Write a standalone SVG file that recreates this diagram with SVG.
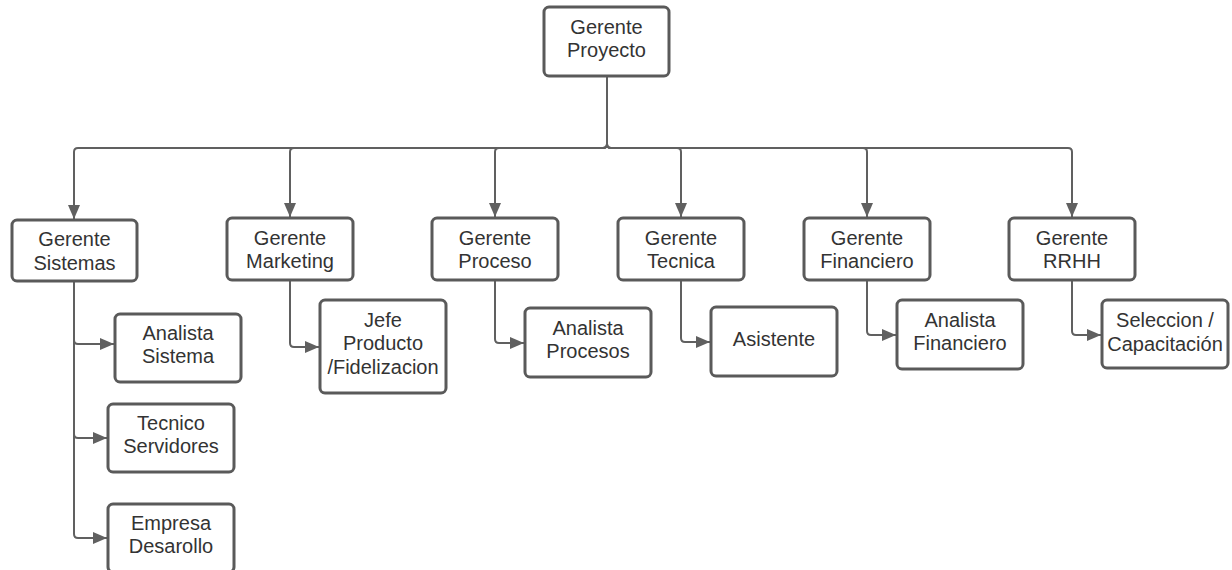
<svg xmlns="http://www.w3.org/2000/svg" width="1232" height="570" viewBox="0 0 1232 570">
<style>
.box{fill:#fff;stroke:#5a5a5a;stroke-width:3}
.t{font-family:"Liberation Sans",Arial,sans-serif;font-size:20px;fill:#333;text-anchor:middle}
.c{fill:none;stroke:#606060;stroke-width:2}
</style>
<defs>
<marker id="ah" markerUnits="userSpaceOnUse" markerWidth="14" markerHeight="12" refX="14" refY="6" orient="auto">
<path d="M0,0 L14,6 L0,12 z" fill="#606060"/>
</marker>
</defs>
<rect width="1232" height="570" fill="#fff"/>
<g id="connectors">
<path class="c" marker-end="url(#ah)" d="M607,76 V144 Q607,148 603,148 H78 Q74,148 74,152 V219"/>
<path class="c" marker-end="url(#ah)" d="M607,76 V144 Q607,148 603,148 H294 Q290,148 290,152 V217"/>
<path class="c" marker-end="url(#ah)" d="M607,76 V144 Q607,148 603,148 H499 Q495,148 495,152 V217"/>
<path class="c" marker-end="url(#ah)" d="M607,76 V144 Q607,148 611,148 H677 Q681,148 681,152 V217"/>
<path class="c" marker-end="url(#ah)" d="M607,76 V144 Q607,148 611,148 H863 Q867,148 867,152 V217"/>
<path class="c" marker-end="url(#ah)" d="M607,76 V144 Q607,148 611,148 H1068 Q1072,148 1072,152 V217"/>
<path class="c" marker-end="url(#ah)" d="M74,281 V340 Q74,344 78,344 H114"/>
<path class="c" marker-end="url(#ah)" d="M74,281 V434 Q74,438 78,438 H107"/>
<path class="c" marker-end="url(#ah)" d="M74,281 V534 Q74,538 78,538 H107"/>
<path class="c" marker-end="url(#ah)" d="M290,280 V343 Q290,347 294,347 H319"/>
<path class="c" marker-end="url(#ah)" d="M495,280 V339 Q495,343 499,343 H524"/>
<path class="c" marker-end="url(#ah)" d="M681,280 V338 Q681,342 685,342 H710"/>
<path class="c" marker-end="url(#ah)" d="M867,280 V331 Q867,335 871,335 H896"/>
<path class="c" marker-end="url(#ah)" d="M1072,280 V331 Q1072,335 1076,335 H1101"/>
</g>
<g id="gerente-proyecto"><rect class="box" x="544" y="7" width="125" height="69" rx="5"/><text class="t"><tspan x="606.5" y="34">Gerente</tspan><tspan x="606.5" y="57">Proyecto</tspan></text></g>
<g id="gerente-sistemas"><rect class="box" x="12" y="220" width="125" height="61" rx="5"/><text class="t"><tspan x="74.5" y="246">Gerente</tspan><tspan x="74.5" y="270">Sistemas</tspan></text></g>
<g id="gerente-marketing"><rect class="box" x="227" y="218" width="126" height="62" rx="5"/><text class="t"><tspan x="290" y="245">Gerente</tspan><tspan x="290" y="268">Marketing</tspan></text></g>
<g id="gerente-proceso"><rect class="box" x="432" y="218" width="126" height="62" rx="5"/><text class="t"><tspan x="495" y="245">Gerente</tspan><tspan x="495" y="268">Proceso</tspan></text></g>
<g id="gerente-tecnica"><rect class="box" x="618" y="218" width="126" height="62" rx="5"/><text class="t"><tspan x="681" y="245">Gerente</tspan><tspan x="681" y="268">Tecnica</tspan></text></g>
<g id="gerente-financiero"><rect class="box" x="804" y="218" width="126" height="62" rx="5"/><text class="t"><tspan x="867" y="245">Gerente</tspan><tspan x="867" y="268">Financiero</tspan></text></g>
<g id="gerente-rrhh"><rect class="box" x="1009" y="218" width="126" height="62" rx="5"/><text class="t"><tspan x="1072" y="245">Gerente</tspan><tspan x="1072" y="268">RRHH</tspan></text></g>
<g id="analista-sistema"><rect class="box" x="115" y="314" width="126" height="68" rx="5"/><text class="t"><tspan x="178" y="340">Analista</tspan><tspan x="178" y="363">Sistema</tspan></text></g>
<g id="tecnico-servidores"><rect class="box" x="108" y="404" width="126" height="68" rx="5"/><text class="t"><tspan x="171" y="430">Tecnico</tspan><tspan x="171" y="453">Servidores</tspan></text></g>
<g id="empresa-desarollo"><rect class="box" x="108" y="504" width="126" height="68" rx="5"/><text class="t"><tspan x="171" y="530">Empresa</tspan><tspan x="171" y="553">Desarollo</tspan></text></g>
<g id="jefe-producto"><rect class="box" x="320" y="300" width="126" height="93" rx="5"/><text class="t"><tspan x="383" y="327">Jefe</tspan><tspan x="383" y="350">Producto</tspan><tspan x="383" y="374">/Fidelizacion</tspan></text></g>
<g id="analista-procesos"><rect class="box" x="525" y="308" width="126" height="69" rx="5"/><text class="t"><tspan x="588" y="335">Analista</tspan><tspan x="588" y="358">Procesos</tspan></text></g>
<g id="asistente"><rect class="box" x="711" y="307" width="126" height="69" rx="5"/><text class="t"><tspan x="774" y="346">Asistente</tspan></text></g>
<g id="analista-financiero"><rect class="box" x="897" y="300" width="126" height="69" rx="5"/><text class="t"><tspan x="960" y="327">Analista</tspan><tspan x="960" y="350">Financiero</tspan></text></g>
<g id="seleccion-capacitacion"><rect class="box" x="1102" y="300" width="126" height="68" rx="5"/><text class="t"><tspan x="1165" y="327">Seleccion /</tspan><tspan x="1165" y="351">Capacitación</tspan></text></g>
</svg>
